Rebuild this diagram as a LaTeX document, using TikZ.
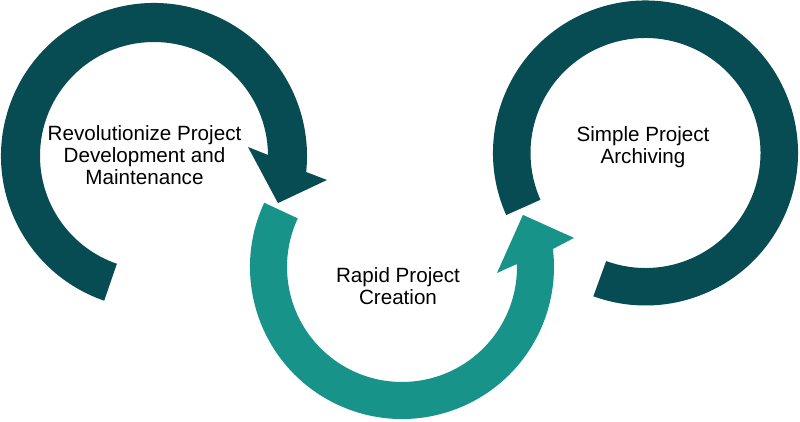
\documentclass[tikz,border=0pt]{standalone}
\usepackage{fontspec}
\setmainfont{Liberation Sans}
\usepackage{tikz}
\usetikzlibrary{positioning}
\definecolor{ringdark}{HTML}{074C52}
\definecolor{ringteal}{HTML}{17938A}

\begin{document}
\begin{tikzpicture}[x=0.03cm,y=0.03cm,
  lbl/.style={align=center,font=\fontsize{17.6}{18.8}\selectfont,inner sep=0pt}]
\useasboundingbox (0,0) rectangle (800,422);
\fill[ringdark,shift={(154,266)}] (251:153) arc[start angle=251,end angle=-6,radius=153]
  -- (-7.9:174.6) -- (-20.8:132.6) -- (5.5:94.4) -- (0.5:114)
  arc[start angle=0.5,end angle=251,radius=114] -- cycle;
\fill[ringteal,shift={(402,155)}] (155:152) arc[start angle=155,end angle=366.8,radius=152]
  -- (9.6:174.4) -- (23.3:131.7) -- (-3.6:95.2) -- (1.5:115)
  arc[start angle=1.5,end angle=-205,radius=115] -- cycle;
\fill[ringdark,shift={(645.5,269)}] (204:152.5) arc[start angle=204,end angle=-110,radius=152.5]
  -- (-110:115) arc[start angle=-110,end angle=204,radius=115] -- cycle;
\node[lbl] (dev) at (144.5,267) {Revolutionize Project\\Development and\\Maintenance};
\node[lbl] (rapid) at (398,136) {Rapid Project\\Creation};
\node[lbl] (archive) at (643,274.5) {Simple Project\\Archiving};
\end{tikzpicture}
\end{document}
